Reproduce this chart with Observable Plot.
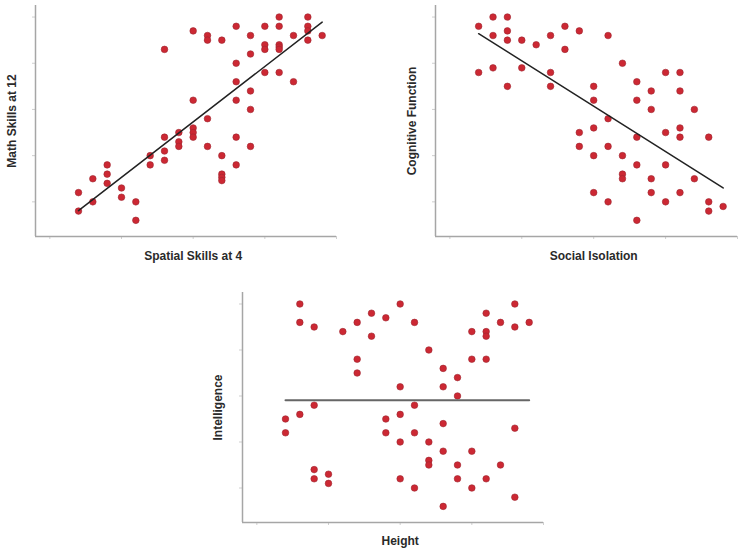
<!DOCTYPE html>
<html><head><meta charset="utf-8">
<script src="https://cdn.jsdelivr.net/npm/d3@7"></script>
<script src="https://cdn.jsdelivr.net/npm/@observablehq/plot@0.6"></script>
<style>
html,body{margin:0;padding:0;background:#fff;}
#wrap{position:relative;width:750px;height:551px;overflow:hidden;background:#fff;}
.panel{position:absolute;}
</style></head><body><div id="wrap"></div>
<script>
const xTicks = [0, 10, 20, 30, 40];
const yTicks = [10, 20, 30, 40, 50];

// Panel 1: Spatial Skills at 4 vs Math Skills at 12
const spatialX = [4,4,6,6,8,8,8,10,10,12,12,14,14,16,16,16,16,18,18,18,20,20,20,20,20,22,22,22,22,24,24,24,24,24,26,26,26,26,26,26,28,28,28,28,28,30,30,30,30,32,32,32,32,32,32,34,34,36,36,36,36,38];
const mathY = [12,8,15,10,18,16,14,13,11,10,6,20,18,43,24,21,19,25,23,22,47,32,26,25,24,46,45,28,22,45,20,16,15.3,14.6,48,40,36,32,24,18,46,42,34,30,22,48,44,43,38,50,48,44,43.5,43,38,46,36,50,48,47,45,46];
const fit1X = [4, 38];
const fit1Y = [8.1, 48.9];

// Panel 2: Social Isolation vs Cognitive Function
const isolationX = [4,4,6,6,6,8,8,8,8,10,10,12,14,14,14,16,16,18,18,18,20,20,20,20,20,22,22,22,22,24,24,24,24,26,26,26,26,26,28,28,28,28,30,30,30,30,32,32,32,32,32,34,34,36,36,36,38];
const cognitiveY = [48,38,50,46,39,50,47,45,35,45,39,44,46,38,35,48,43,47,25,22,35,32,26,20,12,46,28,22,10,40,20,16,15,36,32,24,18,6,34,30,15,12,38,25,18,10,38,34,26,24,12,30,15,24,10,8,9];
const fit2X = [4, 38];
const fit2Y = [46.4, 13.0];

// Panel 3: Height vs Intelligence
const heightX = [4,4,6,6,6,8,8,8,8,10,10,12,14,14,14,16,16,18,18,18,20,20,20,20,20,22,22,22,22,24,24,24,24,26,26,26,26,26,28,28,28,28,30,30,30,30,32,32,32,32,32,34,34,36,36,36,36,38];
const intelligenceY = [25,22,50,46,26,45,28,14,12,13,11,44,46,38,35,48,43,47,25,22,50,32,26,20,12,46,28,22,10,40,20,16,15,36,32,24,18,6,34,30,15,12,44,38,18,10,48,44,43,38,12,46,15,50,45,23,8,46];
const fit3X = [4, 38];
const fit3Y = [29.1, 29.1];

const labels = {
  p1: ["Spatial Skills at 4", "Math Skills at 12"],
  p2: ["Social Isolation", "Cognitive Function"],
  p3: ["Height", "Intelligence"]
};

const font = "'Liberation Sans', Arial, sans-serif";

function panel(o) {
  const pts = o.xs.map((x, i) => ({x, y: o.ys[i]}));
  const fit = o.fx.map((x, i) => ({x, y: o.fy[i]}));
  const xDom = [-2, 40], yDom = [2.5, 52.5];
  const chart = Plot.plot({
    width: o.width, height: o.height,
    marginLeft: 35, marginRight: o.mr, marginTop: 5, marginBottom: o.mb,
    style: {fontFamily: font, background: "#fff", overflow: "visible"},
    x: {domain: xDom},
    y: {domain: yDom},
    marks: [
      Plot.axisX({ticks: xTicks, tickFormat: () => "", tickSize: 3, stroke: "#cfcfcf", label: null}),
      Plot.axisY({ticks: yTicks, tickFormat: () => "", tickSize: 3, stroke: "#cfcfcf", label: null}),
      Plot.ruleY([yDom[0]], {stroke: "#a6a6a6", strokeWidth: 1.5}),
      Plot.ruleX([xDom[0]], {stroke: "#a6a6a6", strokeWidth: 1.5}),
      Plot.dot(pts, {x: "x", y: "y", r: 3.3, fill: "#cc2833", stroke: "#9e2630", strokeWidth: 0.6}),
      Plot.line(fit, {x: "x", y: "y", stroke: o.fitColor, strokeWidth: o.fitWidth}),
      Plot.text([o.labels[0]], {x: () => 20, frameAnchor: "bottom", dy: o.dy, text: d => d, fontSize: 12, fontWeight: "bold", fill: "#2a2a2a", lineAnchor: "middle"}),
      Plot.text([o.labels[1]], {frameAnchor: "left", dx: o.dx, rotate: -90, text: d => d, fontSize: 12, fontWeight: "bold", fill: "#2a2a2a", textAnchor: "middle"})
    ]
  });
  const div = document.createElement("div");
  div.className = "panel";
  div.style.left = o.left + "px";
  div.style.top = o.top + "px";
  div.appendChild(chart);
  document.getElementById("wrap").appendChild(div);
}

panel({xs: spatialX, ys: mathY, fx: fit1X, fy: fit1Y, labels: labels.p1, fitColor: "#222", fitWidth: 1.5,
  left: 0, top: 0, width: 345, height: 270, mr: 9, mb: 34, dy: 20, dx: -23});
panel({xs: isolationX, ys: cognitiveY, fx: fit2X, fy: fit2Y, labels: labels.p2, fitColor: "#222", fitWidth: 1.5,
  left: 400, top: 0, width: 350, height: 270, mr: 13, mb: 34, dy: 20, dx: -23});
panel({xs: heightX, ys: intelligenceY, fx: fit3X, fy: fit3Y, labels: labels.p3, fitColor: "#666", fitWidth: 2,
  left: 207, top: 287, width: 345, height: 264, mr: 9, mb: 29, dy: 19, dx: -24});
</script>
</body></html>
